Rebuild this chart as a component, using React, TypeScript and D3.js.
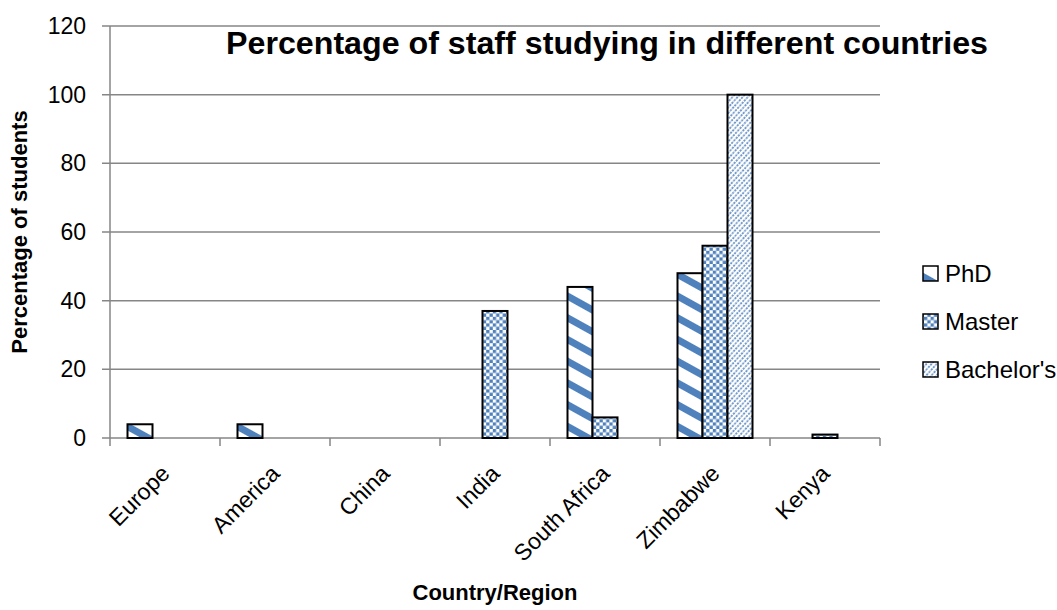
import * as d3 from "d3"

const W = 1057
const H = 610
const BLUE = "#4F81BD"
const GRID = "#868686"
const FONT = "'Liberation Sans', Arial, sans-serif"

const categories = ["Europe", "America", "China", "India", "South Africa", "Zimbabwe", "Kenya"]
const series = ["PhD", "Master", "Bachelor's"]
const phd = [4, 4, 0, 0, 44, 48, 0]
const master = [0, 0, 0, 37, 6, 56, 1]
const bachelor = [0, 0, 0, 0, 0, 100, 0]
const yTicks = [0, 20, 40, 60, 80, 100, 120]

const values = [phd, master, bachelor]
const fills = ["url(#pat-phd)", "url(#pat-master)", "url(#pat-bach)"]

const left = 110
const right = 880
const top = 26
const bottom = 438

export default function App() {
  const x = d3.scaleBand<string>().domain(categories).range([left, right]).paddingInner(0).paddingOuter(0)
  const xs = d3.scaleBand<string>().domain(series).range([0, x.bandwidth()]).paddingInner(0).paddingOuter(0.7)
  const y = d3.scaleLinear().domain([0, 120]).range([bottom, top])

  const boundaries = d3.range(categories.length + 1).map((i) => left + i * x.step())

  return (
    <div style={{ position: "absolute", left: 0, top: 0 }}>
      <svg width={W} height={H} style={{ display: "block", background: "#fff" }} fontFamily={FONT}>
        <defs>
          <pattern id="pat-phd" patternUnits="userSpaceOnUse" width={10} height={19} patternTransform="rotate(29)">
            <rect width={10} height={19} fill="#fff" />
            <rect y={0} width={10} height={7} fill={BLUE} />
          </pattern>
          <pattern id="pat-master" patternUnits="userSpaceOnUse" width={6.6} height={6.6}>
            <rect width={6.6} height={6.6} fill="#fff" />
            <rect width={3.3} height={3.3} fill={BLUE} />
            <rect x={3.3} y={3.3} width={3.3} height={3.3} fill={BLUE} />
          </pattern>
          <pattern id="pat-bach" patternUnits="userSpaceOnUse" width={3.8} height={10} patternTransform="rotate(42)">
            <rect width={3.8} height={10} fill="#fff" />
            <line x1={1} y1={0} x2={1} y2={10} stroke={BLUE} strokeWidth={1.5} strokeDasharray="2.2 1.2" />
          </pattern>
        </defs>

        {/* gridlines and y tick labels */}
        {yTicks.map((t) => (
          <g key={t}>
            <line x1={left - 8} x2={right} y1={y(t)} y2={y(t)} stroke={GRID} strokeWidth={1.5} />
            <text x={86} y={y(t)} dy="0.35em" textAnchor="end" fontSize={23} fill="#000">
              {t}
            </text>
          </g>
        ))}

        {/* y axis */}
        <line x1={left} x2={left} y1={top} y2={bottom} stroke={GRID} strokeWidth={1.5} />

        {/* x ticks */}
        {boundaries.map((bx, i) => (
          <line key={i} x1={bx} x2={bx} y1={bottom} y2={bottom + 8} stroke={GRID} strokeWidth={1.5} />
        ))}

        {/* bars */}
        {categories.map((c, ci) => (
          <g key={c} transform={`translate(${x(c)},0)`}>
            {series.map((s, si) => {
              const v = values[si][ci]
              if (!v) return null
              return (
                <rect
                  key={s}
                  x={xs(s)}
                  y={y(v)}
                  width={xs.bandwidth()}
                  height={y(0) - y(v)}
                  fill={fills[si]}
                  stroke="#000"
                  strokeWidth={2}
                />
              )
            })}
          </g>
        ))}

        {/* x labels */}
        {categories.map((c) => {
          const cx = (x(c) ?? 0) + x.bandwidth() / 2 + 6
          return (
            <text key={c} transform={`translate(${cx},475) rotate(-45)`} textAnchor="end" fontSize={23} fill="#000">
              {c}
            </text>
          )
        })}

        {/* title */}
        <text
          x={607}
          y={54}
          textAnchor="middle"
          fontSize={31}
          fontWeight="bold"
          fill="#000"
          textLength={762}
          lengthAdjust="spacingAndGlyphs"
        >
          Percentage of staff studying in different countries
        </text>

        {/* axis titles */}
        <text transform={`translate(27,232) rotate(-90)`} textAnchor="middle" fontSize={22} fontWeight="bold" fill="#000">
          Percentage of students
        </text>
        <text x={495} y={600} textAnchor="middle" fontSize={22} fontWeight="bold" fill="#000">
          Country/Region
        </text>

        {/* legend */}
        {series.map((s, i) => {
          const ly = 274 + i * 48
          return (
            <g key={s}>
              <rect x={923} y={ly - 8} width={15} height={15} fill={fills[i]} stroke="#000" strokeWidth={1.5} />
              <text x={945} y={ly} dy="0.35em" fontSize={24} fill="#000">
                {s}
              </text>
            </g>
          )
        })}
      </svg>
    </div>
  )
}
